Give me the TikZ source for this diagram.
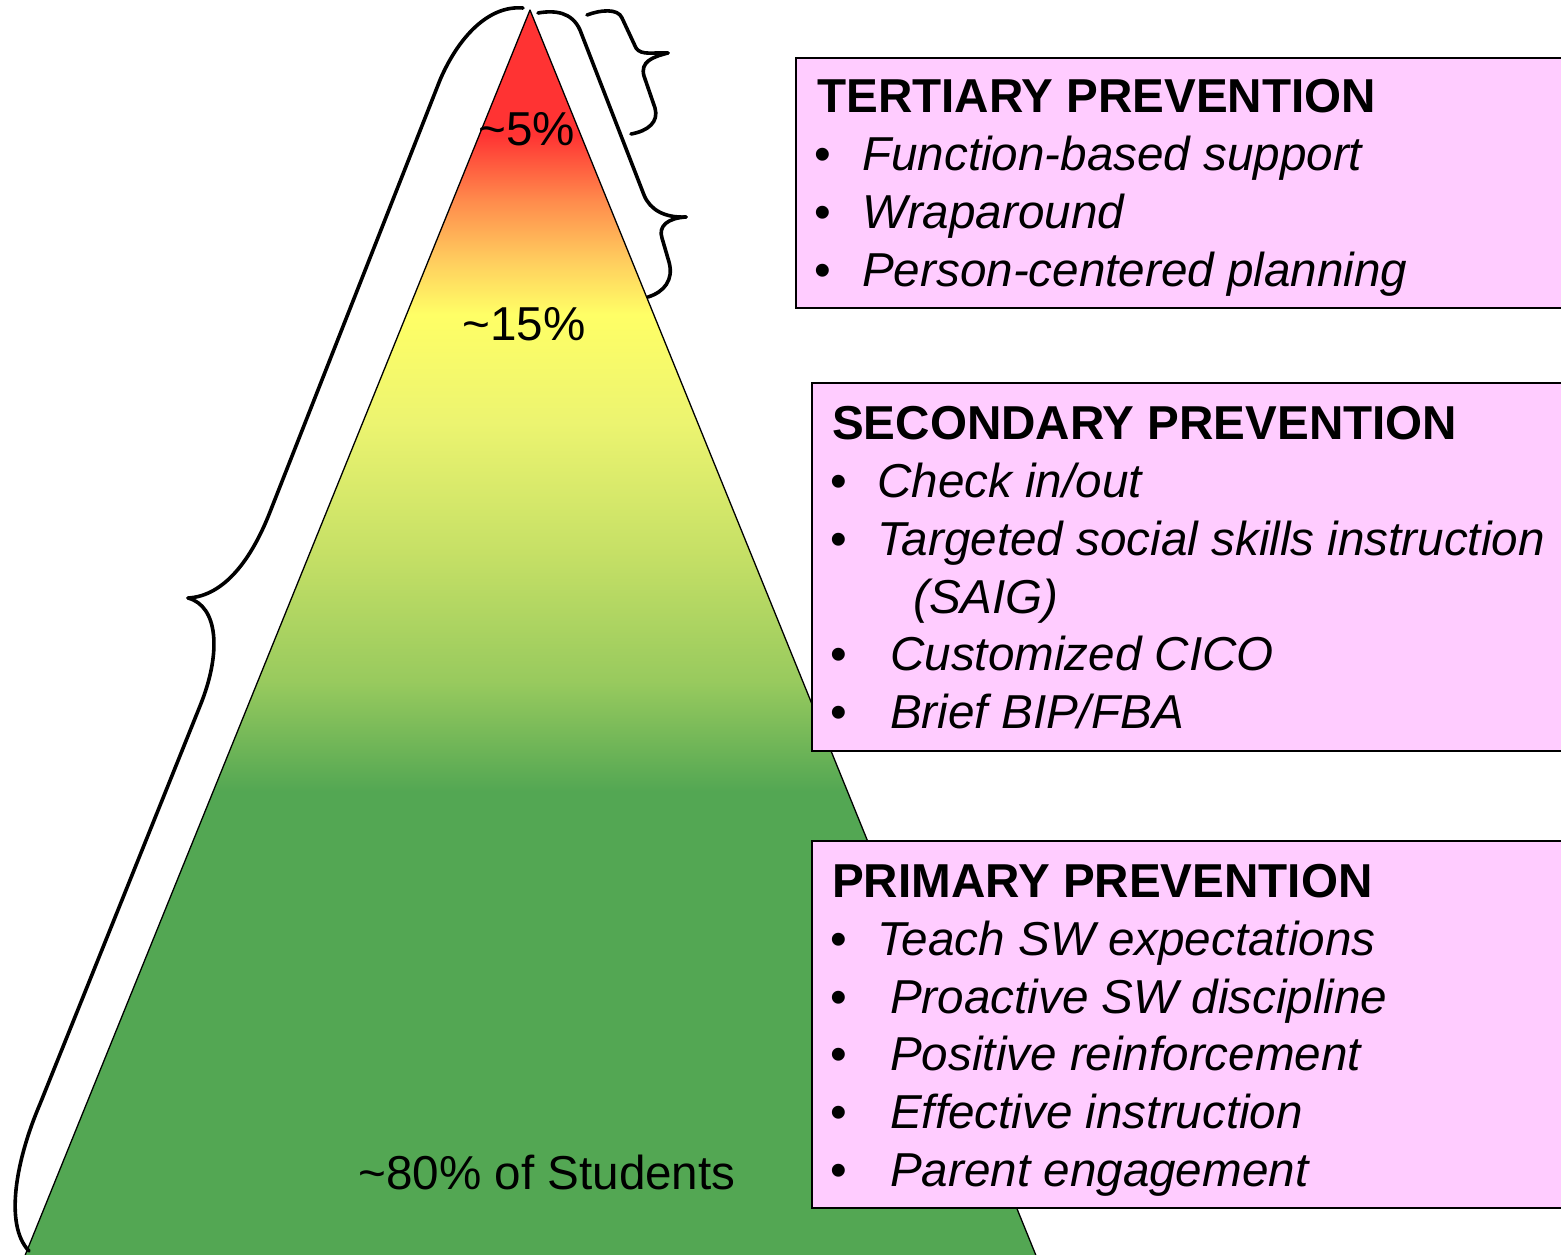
\documentclass[tikz,border=0pt]{standalone}
\usepackage{fontspec}
\setmainfont{Liberation Sans}
\definecolor{pred}{HTML}{FF3333}
\definecolor{por1}{HTML}{FF8A4C}
\definecolor{por2}{HTML}{FFCC5E}
\definecolor{pyel}{HTML}{FFFF66}
\definecolor{pg4}{HTML}{ECF470}
\definecolor{pg3}{HTML}{C6E066}
\definecolor{pg2}{HTML}{98CA5E}
\definecolor{pgreen}{HTML}{53A753}
\definecolor{boxpink}{HTML}{FFCCFF}
\pgfdeclareverticalshading{pyramid}{100bp}{color(0bp)=(pgreen); color(25bp)=(pgreen); color(43.7bp)=(pgreen); color(48.1bp)=(pg2); color(53.3bp)=(pg3); color(58.5bp)=(pg4); color(62.8bp)=(pyel); color(65bp)=(por2); color(67.4bp)=(por1); color(70bp)=(pred); color(100bp)=(pred)}
\tikzset{
  box/.style={draw=black, line width=1.6pt, fill=boxpink, anchor=north west, inner sep=0pt, minimum width=780pt},
  brace/.style={line width=3.6pt, line cap=round, line join=round},
  hd/.style={anchor=base west, inner sep=0pt, font=\bfseries\fontsize{47.6}{57}\selectfont},
  itm/.style={anchor=base west, inner sep=0pt, font=\itshape\fontsize{47.6}{57}\selectfont},
  bul/.style={anchor=base west, inner sep=0pt, font=\fontsize{47.6}{57}\selectfont},
  pct/.style={anchor=base, inner sep=0pt, font=\fontsize{47.6}{57}\selectfont},
}
\begin{document}
\begin{tikzpicture}[x=1pt, y=-1pt]
\useasboundingbox (0,0) rectangle (1561,1255);
\clip (0,0) rectangle (1561,1255);
\fill[white] (0,0) rectangle (1561,1255);
% pyramid
\coordinate (apex) at (530,10);
\coordinate (bl) at (24,1258);
\coordinate (br) at (1037,1258);
\shade[shading=pyramid] (apex) -- (br) -- (bl) -- cycle;
\draw[line width=1.3pt, line join=round] (apex) -- (br) -- (bl) -- cycle;
% percentage labels
\node[pct] (p5) at (527,145) {\char"7E 5\%};
\node[pct] (p15) at (524,340) {\char"7E 15\%};
\node[pct] (p80) at (547,1189) {\char"7E 80\% of Students};
% left big brace
\coordinate (lbtop) at (523,8);
\coordinate (lbtip) at (188,598);
\coordinate (lbend) at (29,1251);
\draw[brace] (lbtop) .. controls (488,5) and (458,38) .. (440,80) -- (270,512)
  .. controls (252,558) and (225,596) .. (lbtip);
\draw[brace] (lbtip) .. controls (218,606) and (222,652) .. (200,706) -- (40,1104)
  .. controls (16,1160) and (4,1225) .. (lbend);
% right small brace (5%)
\coordinate (sbtop) at (587,15);
\coordinate (sbtip) at (668,53);
\coordinate (sbend) at (631,134);
\draw[brace] (sbtop) .. controls (600,10) and (618,8) .. (622,18) -- (636,48)
  .. controls (641,56) and (655,52) .. (sbtip);
\draw[brace] (sbtip) .. controls (652,57) and (640,62) .. (644,76) -- (655,108)
  .. controls (659,122) and (648,131) .. (sbend);
% right medium brace (15%)
\coordinate (mbtop) at (538,13);
\coordinate (mbtip) at (686,217);
\coordinate (mbend) at (648,297);
\draw[brace] (mbtop) .. controls (555,10) and (572,12) .. (580,30) -- (644,195)
  .. controls (650,210) and (665,218) .. (mbtip);
\draw[brace] (mbtip) .. controls (668,218) and (658,226) .. (662,238) -- (669,262)
  .. controls (674,280) and (664,292) .. (mbend);
% boxes
\node[box, minimum height=250pt] (tbox) at (795,57) {};
\node[box, minimum height=368pt] (sbox) at (811,382) {};
\node[box, minimum height=367pt] (pbox) at (811,840) {};
% tertiary text
\node[hd] (th) at (817,112) {TERTIARY PREVENTION};
\node[bul] (tb1) at (814,170) {•};
\node[itm] (ti1) at (862,170) {Function-based support};
\node[bul] (tb2) at (814,228) {•};
\node[itm] (ti2) at (862,228) {Wraparound};
\node[bul] (tb3) at (814,286) {•};
\node[itm] (ti3) at (862,286) {Person-centered planning};
% secondary text
\node[hd] (sh) at (832,439) {SECONDARY PREVENTION};
\node[bul] (sb1) at (830,497) {•};
\node[itm] (si1) at (877,497) {Check in/out};
\node[bul] (sb2) at (830,555) {•};
\node[itm] (si2) at (877,555) {Targeted social skills instruction};
\node[itm] (si2b) at (913,613) {(SAIG)};
\node[bul] (sb3) at (830,670) {•};
\node[itm] (si3) at (890,670) {Customized CICO};
\node[bul] (sb4) at (830,728) {•};
\node[itm] (si4) at (890,728) {Brief BIP/FBA};
% primary text
\node[hd] (ph) at (832,897) {PRIMARY PREVENTION};
\node[bul] (pb1) at (830,955) {•};
\node[itm] (pi1) at (877,955) {Teach SW expectations};
\node[bul] (pb2) at (830,1013) {•};
\node[itm] (pi2) at (890,1013) {Proactive SW discipline};
\node[bul] (pb3) at (830,1070) {•};
\node[itm] (pi3) at (890,1070) {Positive reinforcement};
\node[bul] (pb4) at (830,1128) {•};
\node[itm] (pi4) at (890,1128) {Effective instruction};
\node[bul] (pb5) at (830,1186) {•};
\node[itm] (pi5) at (890,1186) {Parent engagement};
\end{tikzpicture}
\end{document}
